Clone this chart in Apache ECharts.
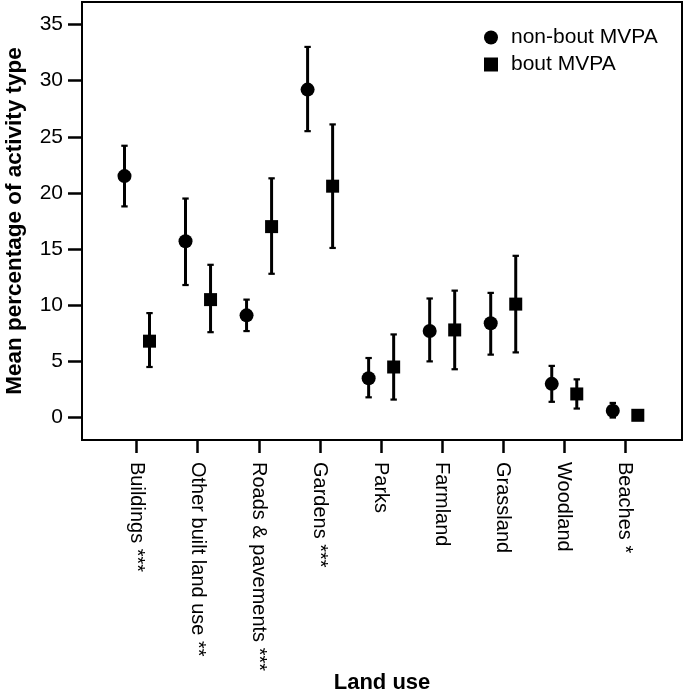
<!DOCTYPE html>
<html>
<head>
<meta charset="utf-8">
<script src="https://cdn.jsdelivr.net/npm/echarts@6/dist/echarts.min.js"></script>
<style>html,body{margin:0;padding:0;background:#fff}#c{width:683px;height:696px}</style>
</head>
<body>
<div id="c"></div>
<script>
var categories = ['Buildings ***', 'Other built land use **', 'Roads & pavements ***', 'Gardens ***', 'Parks', 'Farmland', 'Grassland', 'Woodland', 'Beaches *'];
var nonBoutMean = [21.5, 15.7, 9.1, 29.2, 3.5, 7.7, 8.4, 3.0, 0.6];
var nonBoutLow  = [18.8, 11.8, 7.7, 25.5, 1.8, 5.0, 5.6, 1.4, 0.0];
var nonBoutHigh = [24.2, 19.5, 10.5, 33.0, 5.3, 10.6, 11.1, 4.6, 1.3];
var boutMean = [6.8, 10.5, 17.0, 20.6, 4.5, 7.8, 10.1, 2.1, 0.2];
var boutLow  = [4.5, 7.6, 12.8, 15.1, 1.6, 4.3, 5.8, 0.8, 0.1];
var boutHigh = [9.3, 13.6, 21.3, 26.1, 7.4, 11.3, 14.4, 3.4, 0.3];
var yTicks = [0, 5, 10, 15, 20, 25, 30, 35];
var seriesNames = ['non-bout MVPA', 'bout MVPA'];

var OFF_A = -0.2, OFF_B = 0.21;
var FONT = 'Liberation Sans, Arial, Helvetica, sans-serif';
var catIdx = categories.map(function (c, i) { return i; });

function pts(mean, off) { return mean.map(function (v, i) { return [i + off, v]; }); }
function errs(low, high, off) { return low.map(function (v, i) { return [i + off, v, high[i]]; }); }

function errRender(params, api) {
  var x = api.value(0), lo = api.coord([x, api.value(1)]), hi = api.coord([x, api.value(2)]);
  var cw = 3.2;
  return {
    type: 'group',
    children: [
      { type: 'line', shape: { x1: lo[0], y1: lo[1], x2: hi[0], y2: hi[1] }, style: { stroke: '#000', lineWidth: 3 } },
      { type: 'line', shape: { x1: lo[0] - cw, y1: lo[1], x2: lo[0] + cw, y2: lo[1] }, style: { stroke: '#000', lineWidth: 2.2 } },
      { type: 'line', shape: { x1: hi[0] - cw, y1: hi[1], x2: hi[0] + cw, y2: hi[1] }, style: { stroke: '#000', lineWidth: 2.2 } }
    ]
  };
}

var chart = echarts.init(document.getElementById('c'), null, { renderer: 'canvas' });
chart.setOption({
  animation: false,
  color: ['#000'],
  textStyle: { fontFamily: FONT, color: '#000' },
  grid: { left: 82, top: 2, width: 600, height: 438, outerBoundsMode: 'none', containLabel: false,
    show: true, borderColor: '#000', borderWidth: 2, backgroundColor: 'transparent' },
  legend: {
    orient: 'vertical', left: 484, top: 27, padding: 0, itemWidth: 14, itemHeight: 14, itemGap: 6,
    textStyle: { fontFamily: FONT, fontSize: 21, color: '#000', padding: [0, 0, 0, 8] },
    data: [{ name: seriesNames[0], icon: 'circle' }, { name: seriesNames[1], icon: 'rect' }]
  },
  xAxis: {
    type: 'value', min: -0.896, max: 8.934,
    name: 'Land use', nameLocation: 'middle', nameGap: 232, nameMoveOverlap: false,
    nameTextStyle: { fontFamily: FONT, fontSize: 22, fontWeight: 'bold', color: '#000' },
    axisLine: { show: false, onZero: false },
    splitLine: { show: false },
    axisTick: { show: true, length: 13, lineStyle: { color: '#000', width: 2.5 }, customValues: catIdx },
    axisLabel: { rotate: -90, margin: 22, fontSize: 20, color: '#000', fontFamily: FONT, customValues: catIdx,
      formatter: function (v) { return categories[Math.round(v)]; } }
  },
  yAxis: {
    type: 'value', min: -2, max: 37,
    name: 'Mean percentage of activity type', nameLocation: 'middle', nameGap: 56, nameMoveOverlap: false,
    nameTextStyle: { fontFamily: FONT, fontSize: 22.5, fontWeight: 'bold', color: '#000' },
    axisLine: { show: false, onZero: false },
    splitLine: { show: false },
    axisTick: { show: true, length: 14, lineStyle: { color: '#000', width: 2.5 }, customValues: yTicks },
    axisLabel: { margin: 19, fontSize: 21, color: '#000', fontFamily: FONT, customValues: yTicks }
  },
  series: [
    { type: 'custom', name: seriesNames[0], renderItem: errRender, data: errs(nonBoutLow, nonBoutHigh, OFF_A), encode: { x: 0, y: [1, 2] }, z: 2, silent: true },
    { type: 'custom', name: seriesNames[1], renderItem: errRender, data: errs(boutLow, boutHigh, OFF_B), encode: { x: 0, y: [1, 2] }, z: 2, silent: true },
    { type: 'scatter', name: seriesNames[0], symbol: 'circle', symbolSize: 14, itemStyle: { color: '#000', opacity: 1 }, data: pts(nonBoutMean, OFF_A), z: 3 },
    { type: 'scatter', name: seriesNames[1], symbol: 'rect', symbolSize: 13, itemStyle: { color: '#000', opacity: 1 }, data: pts(boutMean, OFF_B), z: 3 }
  ]
});
</script>
</body>
</html>
